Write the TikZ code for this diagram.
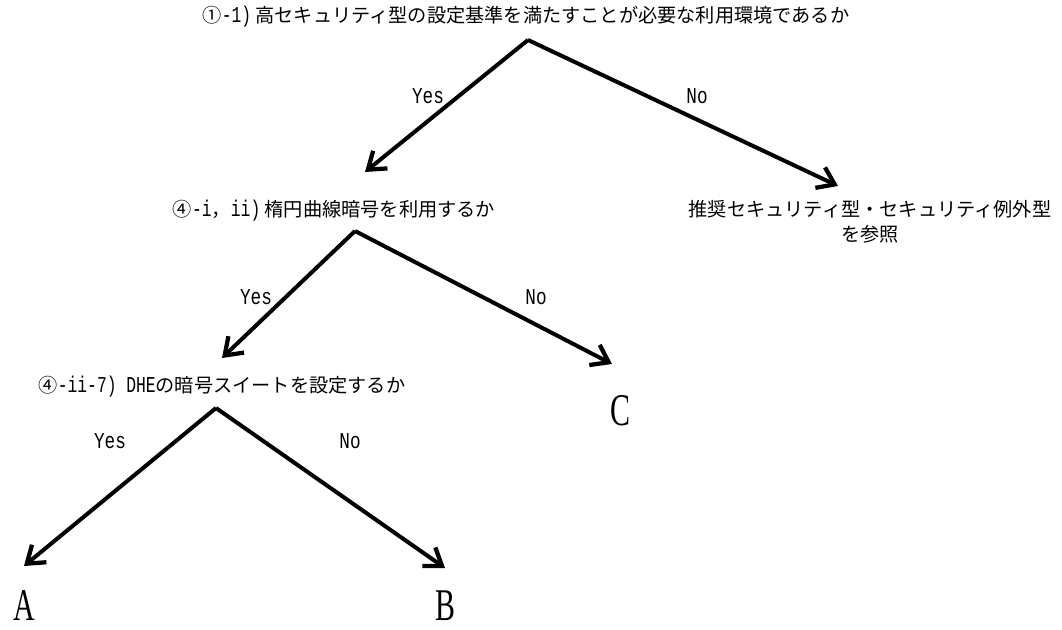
\documentclass[tikz,border=0pt]{standalone}
\usepackage{fontspec}
\setmainfont{Noto Sans CJK JP}
\newfontfamily\lat[FakeStretch=0.72]{Liberation Mono}
\newfontfamily\latl[FakeStretch=0.78]{Liberation Mono}
\newfontfamily\letterfont{Liberation Serif}
\usetikzlibrary{arrows.meta}
\newcommand{\lt}[1]{{\lat\fontsize{17pt}{19pt}\selectfont #1}}
\begin{document}
\begin{tikzpicture}[x=0.75pt,y=-0.75pt,
  q/.style={inner sep=0pt, font=\fontsize{14.4pt}{18.5pt}\selectfont},
  lbl/.style={inner sep=0pt, font=\latl\fontsize{17pt}{19pt}\selectfont},
  leaf/.style={inner sep=0pt, font=\letterfont\fontsize{34pt}{38pt}\selectfont, xscale=0.66},
  arr/.style={line width=3pt, -{Straight Barb[length=12pt, width=17pt, line width=3.2pt]}}]
\useasboundingbox (0,0) rectangle (1062,630);
\node[q] (q1) at (526,17) {①\lt{-1)} 高セキュリティ型の設定基準を満たすことが必要な利用環境であるか};
\node[q] (q2) at (334,211) {④\lt{-i}，\lt{ii)} 楕円曲線暗号を利用するか};
\node[q, align=center] (ref) at (870,222) {推奨セキュリティ型・セキュリティ例外型\\を参照};
\node[q] (q3) at (222,387) {④\lt{-ii-7) DHE}の暗号スイートを設定するか};
\node[leaf] (C) at (620,411) {C};
\node[leaf] (A) at (24,606) {A};
\node[leaf] (B) at (445,606) {B};
\coordinate (q1a) at (528,40);
\coordinate (q1y) at (365,172);
\coordinate (q1n) at (838,186);
\coordinate (q2a) at (355,231);
\coordinate (q2y) at (222,358);
\coordinate (q2n) at (612,364);
\coordinate (q3a) at (216,408);
\coordinate (q3y) at (24,566);
\coordinate (q3n) at (445,568);
\draw[arr] (q1a) -- (q1y);
\draw[arr] (q1a) -- (q1n);
\draw[arr] (q2a) -- (q2y);
\draw[arr] (q2a) -- (q2n);
\draw[arr] (q3a) -- (q3y);
\draw[arr] (q3a) -- (q3n);
\node[lbl] (l1y) at (428,96) {Yes};
\node[lbl] (l1n) at (697,96) {No};
\node[lbl] (l2y) at (256,297) {Yes};
\node[lbl] (l2n) at (536,297) {No};
\node[lbl] (l3y) at (110,441) {Yes};
\node[lbl] (l3n) at (350,441) {No};
\end{tikzpicture}
\end{document}
